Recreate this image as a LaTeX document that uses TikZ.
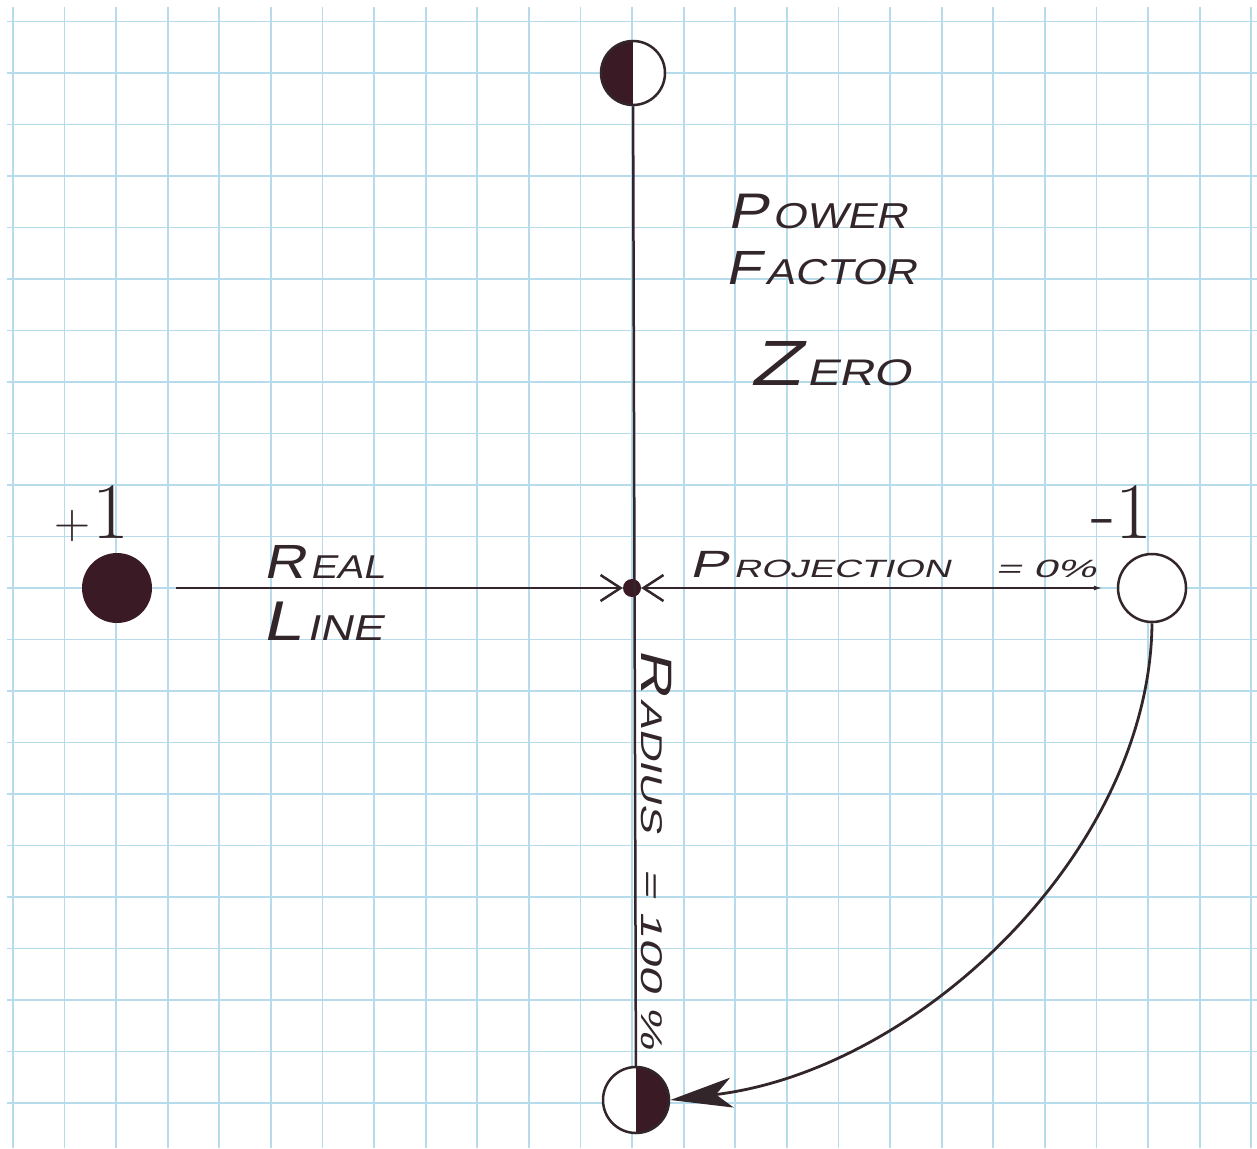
\documentclass[tikz,border=0pt]{standalone}
\usepackage{graphicx}
\usepackage{fontspec}
\usetikzlibrary{arrows.meta}
\newfontfamily\hand[FakeSlant=0.22,FakeStretch=1.2]{Liberation Sans}
\definecolor{ink}{RGB}{50,38,42}
\definecolor{inkfill}{RGB}{58,26,36}
\definecolor{gridblue}{RGB}{182,220,235}
\newcommand\hwt[4]{{\hand\fontsize{#1}{#1}\selectfont #2\kern5pt\fontsize{#3}{#3}\selectfont #4}}
\begin{document}
\begin{tikzpicture}[x=1pt,y=-1pt,
  gridline/.style={draw=gridblue,line width=1.8pt},
  axis/.style={draw=ink,line width=2.5pt},
  dotnode/.style={circle,inner sep=0pt,minimum size=#1},
  lbl/.style={text=ink,inner sep=0pt},
  hw/.style={lbl,anchor=base west,text depth=0pt,text height=#1}
  ]
\fill[white] (0,0) rectangle (1257,1148);
\useasboundingbox (0,0) rectangle (1257,1148);
\foreach \k in {-12,...,12}{\draw[gridline] ({632+51.6*\k},7) -- ({632+51.6*\k},1148);}
\foreach \k in {-11,...,10}{\draw[gridline] (7,{588+51.5*\k}) -- (1257,{588+51.5*\k});}

% nodes
\node[dotnode=70pt, fill=inkfill] (plus1) at (117,588) {};
\node[dotnode=68pt, draw=ink, line width=2.5pt, fill=white] (minus1) at (1152,588) {};
\node[dotnode=64pt, draw=ink, line width=2.5pt, fill=white,
  path picture={\fill[inkfill] (path picture bounding box.north west) rectangle (path picture bounding box.south);}] (top) at (633,73) {};
\node[dotnode=66pt, draw=ink, line width=2.5pt, fill=white,
  path picture={\fill[inkfill] (path picture bounding box.north) rectangle (path picture bounding box.south east);}] (bot) at (636,1100) {};
\node[dotnode=18pt, fill=inkfill] (origin) at (632,588) {};

% connectors
\draw[axis] (top) -- (bot);
\draw[axis, shorten <=24pt, -{Straight Barb[length=20pt,width=26pt]}] (plus1) -- (origin);
\draw[axis, {Straight Barb[length=20pt,width=26pt]}-{Latex[length=9pt,width=5pt]}, shorten >=14pt] (origin) -- (minus1);
\draw[draw=ink, line width=2.8pt, -{Stealth[length=62pt,width=30pt,inset=16pt]}]
  (minus1.south) .. controls (1150,850) and (920,1070) .. (bot.east);

% labels
\node[lbl, anchor=base] (lplus) at (92,538) {{\fontsize{50pt}{50pt}\selectfont +}\,{\fontsize{80pt}{80pt}\selectfont 1}};
\node[lbl, anchor=base] (lminus) at (1122,538) {{\fontsize{80pt}{80pt}\selectfont -1}};
\node[hw=36pt] (power) at (727,228) {\hwt{50pt}{P}{36pt}{OWER}};
\node[hw=35pt] (factor) at (725,284) {\hwt{48pt}{F}{36pt}{ACTOR}};
\node[hw=46pt] (zero) at (750,385) {\scalebox{1.08}[1]{\hwt{64pt}{Z}{37pt}{ERO}}};
\node[hw=34pt] (real) at (263,578) {\hwt{48pt}{R}{33pt}{EAL}};
\node[hw=40pt] (line) at (262,640) {\scalebox{1.05}[1]{\hwt{56pt}{L}{36pt}{INE}}};
\node[hw=27pt] (proj) at (689,577) {\scalebox{1.25}[1]{\hwt{38pt}{P}{25pt}{ROJECTION}}\hspace{38pt}\scalebox{1.45}[1]{\hwt{25pt}{}{25pt}{= 0\%}}};
\node[hw=30pt, rotate=-90] (radius) at (641,648) {\scalebox{1.2}[1]{\hwt{44pt}{R}{30pt}{ADIUS}}\hspace{30pt}\scalebox{1.35}[1]{\hwt{30pt}{}{30pt}{= 100 \%}}};
\end{tikzpicture}
\end{document}
